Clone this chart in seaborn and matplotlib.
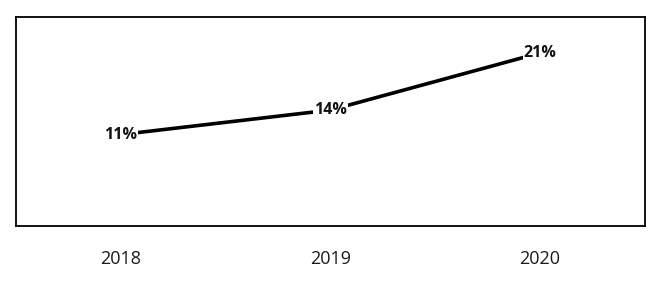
import matplotlib
matplotlib.use("Agg")
import matplotlib.pyplot as plt
import seaborn as sns
import pandas as pd

years = ["2018", "2019", "2020"]
rates = [11, 14, 21]
labels = ["11%", "14%", "21%"]

sns.set_style("white")
plt.rcParams['font.family'] = ['Open Sans', 'DejaVu Sans']

df = pd.DataFrame({"year": years, "rate": rates})

fig = plt.figure(figsize=(6.6, 2.83), dpi=100)
ax = fig.add_axes([0.0242, 0.2014, 0.953, 0.7386])

sns.lineplot(data=df, x="year", y="rate", ax=ax, color="black", linewidth=2.6, sort=False)

for i, (v, lab) in enumerate(zip(rates, labels)):
    ax.text(i, v, lab, ha="center", va="center", fontsize=11.5, fontweight="bold",
            color="#111111", bbox=dict(facecolor="white", edgecolor="none", pad=0.8))

ax.set_xlim(-0.5, 2.5)
ax.set_ylim(-0.2, 25.4)
ax.set_yticks([])
ax.set_xlabel("")
ax.set_ylabel("")
ax.tick_params(axis="x", length=0, pad=17, labelsize=13, colors="#1a1a1a")
for s in ax.spines.values():
    s.set_color("black")
    s.set_linewidth(1.3)

fig.savefig("out.png", dpi=100)
